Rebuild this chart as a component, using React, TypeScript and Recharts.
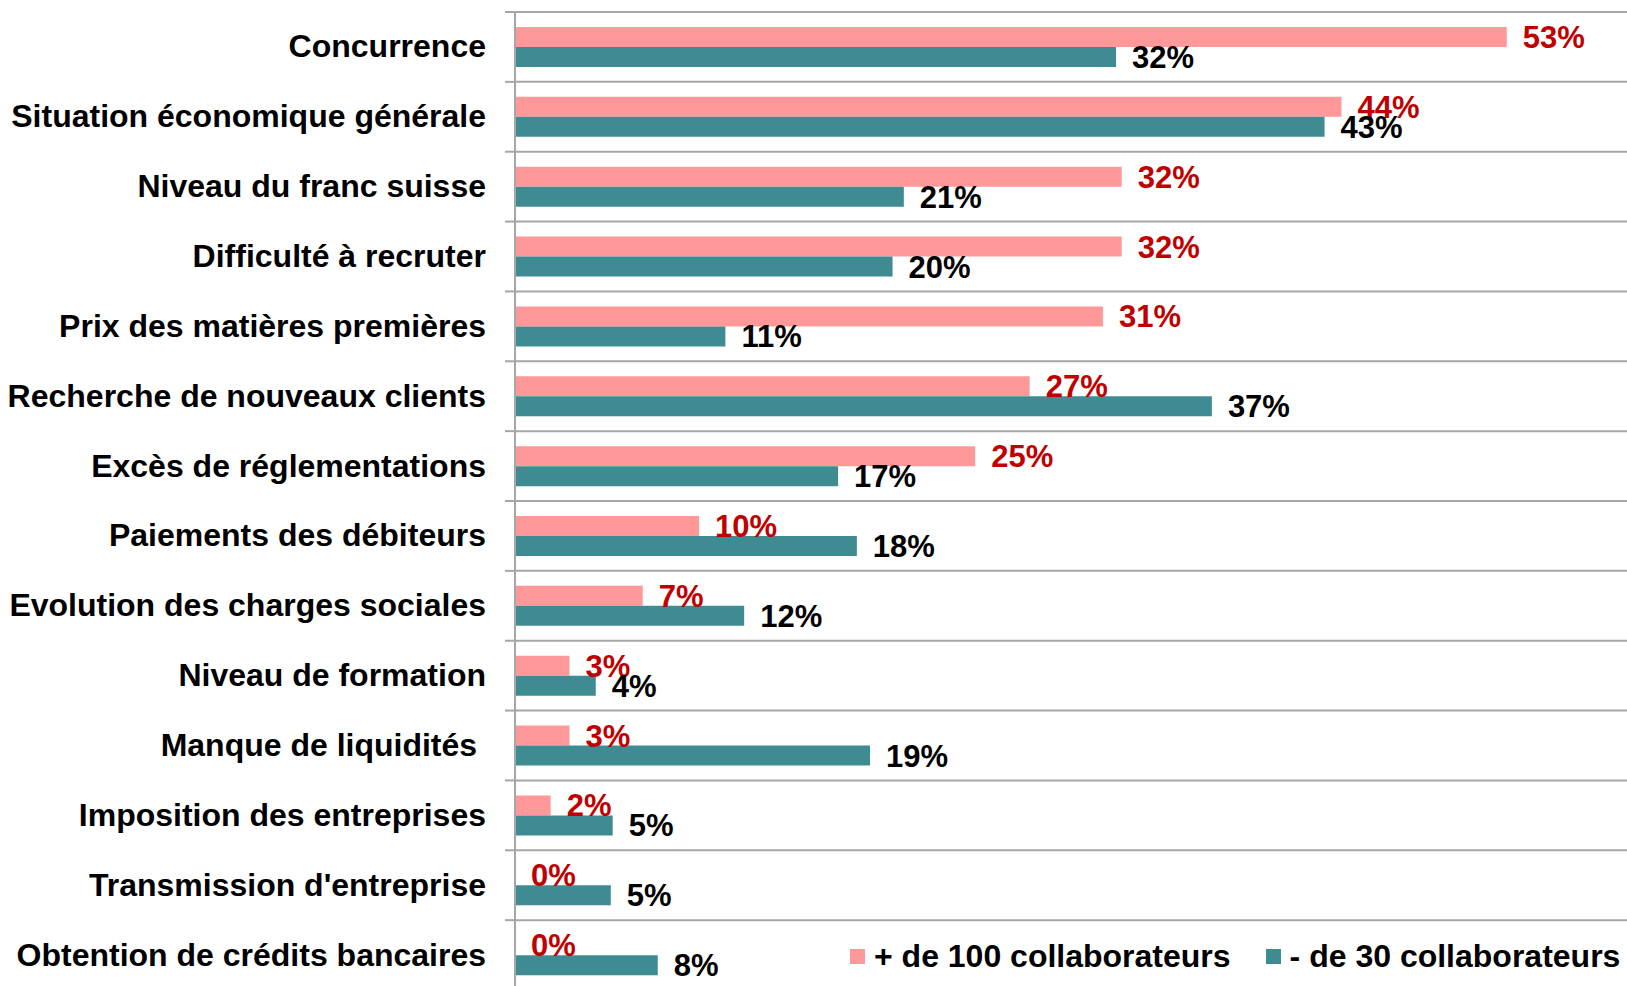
import React from "react";
import { BarChart, Bar, XAxis, YAxis, CartesianGrid, LabelList, Legend } from "recharts";

const categories = [
  "Concurrence",
  "Situation économique générale",
  "Niveau du franc suisse",
  "Difficulté à recruter",
  "Prix des matières premières",
  "Recherche de nouveaux clients",
  "Excès de réglementations",
  "Paiements des débiteurs",
  "Evolution des charges sociales",
  "Niveau de formation",
  "Manque de liquidités ",
  "Imposition des entreprises",
  "Transmission d'entreprise",
  "Obtention de crédits bancaires",
];

// + de 100 collaborateurs
const bigValues = [52.8, 44.0, 32.3, 32.3, 31.3, 27.4, 24.5, 9.8, 6.8, 2.9, 2.9, 1.9, 0, 0];
// - de 30 collaborateurs
const smallValues = [32.0, 43.1, 20.7, 20.1, 11.2, 37.1, 17.2, 18.2, 12.2, 4.3, 18.9, 5.2, 5.1, 7.6];

const seriesNames = ["+ de 100 collaborateurs", "- de 30 collaborateurs"];

const data = categories.map((name, i) => ({ name, big: bigValues[i], small: smallValues[i] }));

const PINK = "#FF9999";
const TEAL = "#3E8C92";
const GRID = "#A6A6A6";
const FONT = "'Liberation Sans', Arial, Helvetica, sans-serif";
const TICK_SIZE = 10;
const TICK_MARGIN = 19;

function CatTick(props: any) {
  const { x, y, payload } = props;
  const half = payload && typeof payload.offset === "number" ? payload.offset : 0;
  return (
    <g>
      <text
        x={x}
        y={y}
        dy="0.33em"
        textAnchor="end"
        fontFamily={FONT}
        fontSize={32}
        fontWeight="bold"
        fill="#000"
        style={{ whiteSpace: "pre" }}
      >
        {payload.value}
      </text>
      <line
        x1={x + TICK_MARGIN}
        x2={x + TICK_MARGIN + TICK_SIZE}
        y1={y - half}
        y2={y - half}
        stroke={GRID}
        strokeWidth={2}
      />
    </g>
  );
}

// grid lines on the band boundaries of the category axis
const bandBoundaries = (args: any) => {
  const axis = args && args.yAxis;
  const s = axis && axis.scale;
  const n = categories.length;
  let pts: number[] = [];
  if (s) {
    const mapFn =
      typeof s === "function" ? (c: string) => s(c) : typeof s.map === "function" ? (c: string) => s.map(c) : null;
    if (mapFn) {
      const bw = typeof s.bandwidth === "function" ? s.bandwidth() : 0;
      pts = categories.map((c) => Number(mapFn(c))).filter((v) => Number.isFinite(v));
      if (pts.length === n && bw > 0) pts.push(pts[n - 1] + bw);
      else pts = [];
    }
  }
  if (!pts.length && args && args.offset) {
    const { top, height } = args.offset;
    const step = height / n;
    pts = Array.from({ length: n + 1 }, (_, i) => top + i * step);
  }
  return pts;
};

const fmt = (v: any) => `${Math.round(Number(v))}%`;

function LegendContent() {
  const colors = [PINK, TEAL];
  return (
    <div
      style={{
        display: "flex",
        alignItems: "center",
        fontFamily: FONT,
        fontWeight: "bold",
        fontSize: 32,
        lineHeight: "36px",
        color: "#000",
        whiteSpace: "nowrap",
      }}
    >
      {seriesNames.map((n, i) => (
        <div key={n} style={{ display: "flex", alignItems: "center", marginRight: i === 0 ? 35 : 0 }}>
          <span style={{ display: "inline-block", width: 15, height: 15, background: colors[i], marginRight: 9 }} />
          <span>{n}</span>
        </div>
      ))}
    </div>
  );
}

export default function App() {
  return (
    <div style={{ position: "absolute", left: 0, top: 0, width: 1627, height: 986, overflow: "hidden", background: "#fff" }}>
      <style>{`html,body{margin:0;padding:0;overflow:hidden;background:#fff;}`}</style>
      <BarChart
        width={1627}
        height={990}
        data={data}
        layout="vertical"
        margin={{ top: 12, right: 0, bottom: 0, left: 0 }}
        barGap={0}
        barSize={20}
      >
        <CartesianGrid
          yAxisId="cat"
          vertical={false}
          stroke={GRID}
          strokeWidth={2}
          horizontalCoordinatesGenerator={bandBoundaries}
        />
        <XAxis type="number" domain={[0, 59.2]} hide allowDataOverflow />
        <YAxis
          yAxisId="cat"
          type="category"
          dataKey="name"
          width={515}
          interval={0}
          tickLine={false}
          tickSize={TICK_SIZE}
          tickMargin={TICK_MARGIN}
          axisLine={{ stroke: GRID, strokeWidth: 2 }}
          tick={<CatTick />}
        />
        <Bar yAxisId="cat" dataKey="big" name={seriesNames[0]} fill={PINK} minPointSize={0.01} isAnimationActive={false}>
          <LabelList
            dataKey="big"
            position="right"
            offset={16}
            formatter={fmt}
            fill="#C00000"
            fontSize={31}
            fontWeight="bold"
            fontFamily={FONT}
          />
        </Bar>
        <Bar yAxisId="cat" dataKey="small" name={seriesNames[1]} fill={TEAL} isAnimationActive={false}>
          <LabelList
            dataKey="small"
            position="right"
            offset={16}
            formatter={fmt}
            fill="#000"
            fontSize={31}
            fontWeight="bold"
            fontFamily={FONT}
          />
        </Bar>
        <Legend
          layout="horizontal"
          verticalAlign="middle"
          align="center"
          content={<LegendContent />}
          wrapperStyle={{ left: 850, top: 938, width: 780 }}
        />
      </BarChart>
    </div>
  );
}
